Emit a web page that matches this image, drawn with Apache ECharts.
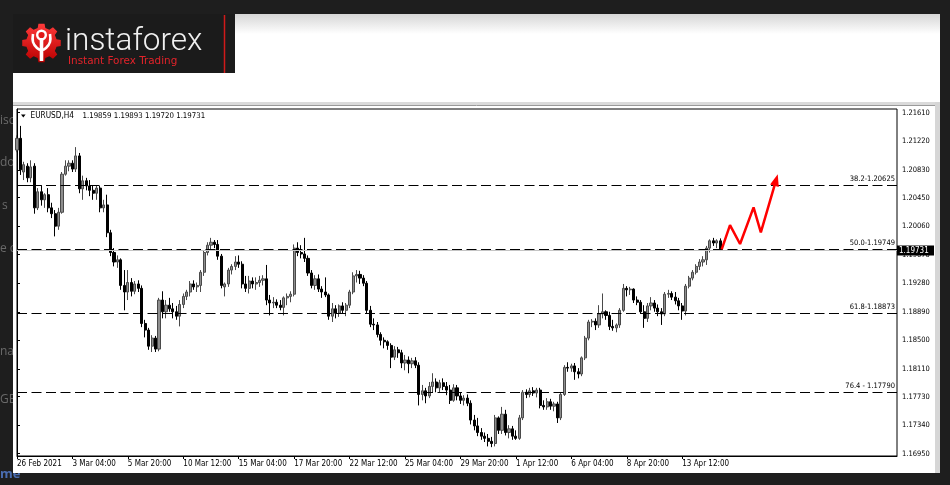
<!DOCTYPE html>
<html>
<head>
<meta charset="utf-8">
<title>EURUSD H4</title>
<script src="https://cdn.jsdelivr.net/npm/echarts@6.0.0/dist/echarts.min.js"></script>
<style>
  html, body { margin: 0; padding: 0; background: #1e1e1e; }
  #chart { width: 950px; height: 485px; }
</style>
</head>
<body>
<div id="chart"></div>
<script>
  // EURUSD H4 candles (26 Feb 12:00 -> 15 Apr 04:00)
  const opens = [
    1.2110,1.2126,1.2080,1.2088,1.2072,1.2088,1.2031,1.2053,1.2042,1.2049,
    1.2031,1.2023,1.2006,1.2025,1.2077,1.2088,1.2092,1.2084,1.2102,1.2057,
    1.2068,1.2061,1.2055,1.2051,1.2058,1.2031,1.2035,1.1997,1.1970,1.1957,
    1.1960,1.1925,1.1916,1.1929,1.1917,1.1927,1.1921,1.1873,1.1864,1.1842,
    1.1853,1.1838,1.1905,1.1889,1.1898,1.1893,1.1889,1.1883,1.1899,1.1910,
    1.1916,1.1927,1.1923,1.1925,1.1943,1.1970,1.1980,1.1984,1.1981,1.1965,
    1.1923,1.1927,1.1946,1.1951,1.1957,1.1954,1.1927,1.1921,1.1931,1.1927,
    1.1929,1.1932,1.1934,1.1905,1.1901,1.1902,1.1898,1.1895,1.1908,1.1910,
    1.1913,1.1976,1.1970,1.1968,1.1962,1.1942,1.1925,1.1934,1.1920,1.1916,
    1.1912,1.1883,1.1893,1.1887,1.1897,1.1891,1.1898,1.1916,1.1938,1.1940,
    1.1935,1.1928,1.1891,1.1872,1.1871,1.1858,1.1850,1.1848,1.1843,1.1827,
    1.1837,1.1833,1.1819,1.1823,1.1818,1.1822,1.1816,1.1776,1.1781,1.1774,
    1.1787,1.1793,1.1785,1.1792,1.1787,1.1782,1.1768,1.1785,1.1774,1.1768,
    1.1771,1.1764,1.1741,1.1733,1.1724,1.1719,1.1716,1.1712,1.1709,1.1744,
    1.1727,1.1749,1.1724,1.1729,1.1719,1.1716,1.1744,1.1779,1.1776,1.1781,
    1.1778,1.1782,1.1761,1.1759,1.1766,1.1760,1.1763,1.1744,1.1776,1.1813,
    1.1812,1.1815,1.1807,1.1804,1.1826,1.1853,1.1875,1.1876,1.1871,1.1886,
    1.1889,1.1884,1.1869,1.1867,1.1871,1.1891,1.1921,1.1919,1.1920,1.1905,
    1.1902,1.1889,1.1880,1.1897,1.1901,1.1894,1.1889,1.1886,1.1913,1.1914,
    1.1909,1.1904,1.1897,1.1890,1.1924,1.1935,1.1943,1.1951,1.1957,1.1960,
    1.1976,1.1986,1.1983,1.19859
  ];
  const highs = [
    1.2130,1.2143,1.2094,1.2092,1.2096,1.2092,1.2058,1.2062,1.2051,1.2058,
    1.2038,1.2028,1.2031,1.2080,1.2096,1.2096,1.2096,1.2114,1.2106,1.2075,
    1.2072,1.2069,1.2062,1.2061,1.2061,1.2042,1.2049,1.2001,1.1976,1.1966,
    1.1962,1.1946,1.1946,1.1935,1.1931,1.1932,1.1925,1.1878,1.1867,1.1857,
    1.1856,1.1908,1.1917,1.1905,1.1908,1.1901,1.1897,1.1905,1.1914,1.1919,
    1.1931,1.1932,1.1929,1.1946,1.1973,1.1984,1.1990,1.1987,1.1987,1.1968,
    1.1929,1.1949,1.1954,1.1965,1.1966,1.1958,1.1938,1.1938,1.1936,1.1936,
    1.1938,1.1939,1.1953,1.1912,1.1909,1.1906,1.1905,1.1910,1.1914,1.1917,
    1.1981,1.1984,1.1980,1.1990,1.1966,1.1946,1.1939,1.1940,1.1924,1.1936,
    1.1914,1.1901,1.1898,1.1899,1.1902,1.1901,1.1919,1.1943,1.1946,1.1945,
    1.1939,1.1931,1.1897,1.1880,1.1875,1.1861,1.1854,1.1850,1.1846,1.1842,
    1.1841,1.1837,1.1830,1.1828,1.1826,1.1827,1.1820,1.1789,1.1785,1.1793,
    1.1805,1.1798,1.1796,1.1798,1.1793,1.1789,1.1790,1.1789,1.1778,1.1775,
    1.1776,1.1768,1.1748,1.1744,1.1730,1.1724,1.1722,1.1718,1.1748,1.1746,
    1.1759,1.1755,1.1734,1.1733,1.1727,1.1748,1.1782,1.1783,1.1785,1.1786,
    1.1785,1.1785,1.1768,1.1771,1.1770,1.1766,1.1766,1.1779,1.1816,1.1820,
    1.1818,1.1819,1.1812,1.1828,1.1856,1.1878,1.1879,1.1880,1.1898,1.1914,
    1.1891,1.1889,1.1878,1.1873,1.1894,1.1927,1.1924,1.1923,1.1921,1.1910,
    1.1905,1.1898,1.1901,1.1909,1.1905,1.1899,1.1894,1.1916,1.1919,1.1917,
    1.1916,1.1908,1.1901,1.1927,1.1938,1.1946,1.1954,1.1961,1.1965,1.1979,
    1.1988,1.1990,1.1988,1.19893
  ];
  const lows = [
    1.2107,1.2076,1.2069,1.2066,1.2066,1.2023,1.2028,1.2034,1.2031,1.2025,
    1.2017,1.1992,1.2001,1.2023,1.2075,1.2081,1.2080,1.2080,1.2051,1.2042,
    1.2055,1.2047,1.2042,1.2042,1.2025,1.2025,1.1991,1.1965,1.1951,1.1949,
    1.1919,1.1891,1.1905,1.1910,1.1913,1.1916,1.1868,1.1854,1.1837,1.1834,
    1.1834,1.1835,1.1880,1.1880,1.1889,1.1880,1.1878,1.1869,1.1894,1.1905,
    1.1910,1.1919,1.1916,1.1916,1.1938,1.1966,1.1973,1.1976,1.1960,1.1921,
    1.1910,1.1923,1.1940,1.1946,1.1949,1.1921,1.1916,1.1914,1.1921,1.1919,
    1.1923,1.1925,1.1898,1.1884,1.1894,1.1894,1.1891,1.1884,1.1898,1.1902,
    1.1910,1.1965,1.1962,1.1957,1.1938,1.1921,1.1919,1.1916,1.1908,1.1909,
    1.1878,1.1875,1.1880,1.1882,1.1886,1.1883,1.1894,1.1913,1.1929,1.1927,
    1.1924,1.1887,1.1868,1.1864,1.1854,1.1843,1.1839,1.1837,1.1812,1.1823,
    1.1826,1.1812,1.1809,1.1805,1.1812,1.1812,1.1761,1.1768,1.1764,1.1771,
    1.1779,1.1779,1.1779,1.1782,1.1775,1.1763,1.1766,1.1768,1.1763,1.1761,
    1.1760,1.1735,1.1727,1.1719,1.1714,1.1711,1.1705,1.1704,1.1705,1.1722,
    1.1722,1.1720,1.1716,1.1714,1.1714,1.1714,1.1741,1.1771,1.1772,1.1774,
    1.1772,1.1757,1.1755,1.1755,1.1755,1.1753,1.1737,1.1741,1.1774,1.1807,
    1.1807,1.1796,1.1798,1.1801,1.1823,1.1850,1.1868,1.1864,1.1867,1.1880,
    1.1878,1.1864,1.1863,1.1861,1.1867,1.1889,1.1910,1.1912,1.1901,1.1898,
    1.1886,1.1867,1.1875,1.1891,1.1889,1.1883,1.1871,1.1883,1.1908,1.1905,
    1.1899,1.1891,1.1878,1.1884,1.1921,1.1932,1.1940,1.1946,1.1951,1.1953,
    1.1970,1.1979,1.1976,1.19720
  ];
  const closes = [
    1.2126,1.2083,1.2090,1.2072,1.2087,1.2031,1.2053,1.2042,1.2049,1.2031,
    1.2023,1.2006,1.2025,1.2077,1.2088,1.2092,1.2084,1.2102,1.2057,1.2068,
    1.2061,1.2055,1.2051,1.2058,1.2031,1.2035,1.1997,1.1970,1.1957,1.1960,
    1.1925,1.1916,1.1929,1.1917,1.1927,1.1921,1.1873,1.1864,1.1842,1.1853,
    1.1838,1.1905,1.1889,1.1898,1.1893,1.1889,1.1883,1.1899,1.1910,1.1916,
    1.1927,1.1923,1.1925,1.1943,1.1970,1.1980,1.1984,1.1981,1.1965,1.1925,
    1.1927,1.1946,1.1951,1.1957,1.1954,1.1927,1.1921,1.1931,1.1927,1.1929,
    1.1932,1.1934,1.1905,1.1901,1.1902,1.1898,1.1895,1.1908,1.1910,1.1913,
    1.1976,1.1970,1.1968,1.1962,1.1942,1.1925,1.1934,1.1920,1.1916,1.1912,
    1.1883,1.1893,1.1887,1.1897,1.1891,1.1898,1.1916,1.1938,1.1940,1.1935,
    1.1928,1.1891,1.1872,1.1871,1.1858,1.1850,1.1848,1.1843,1.1827,1.1837,
    1.1833,1.1819,1.1823,1.1818,1.1822,1.1816,1.1776,1.1781,1.1774,1.1787,
    1.1793,1.1785,1.1792,1.1787,1.1782,1.1768,1.1785,1.1774,1.1768,1.1771,
    1.1764,1.1741,1.1733,1.1724,1.1719,1.1716,1.1712,1.1709,1.1744,1.1727,
    1.1749,1.1724,1.1729,1.1719,1.1716,1.1744,1.1779,1.1776,1.1781,1.1778,
    1.1782,1.1761,1.1759,1.1766,1.1760,1.1763,1.1744,1.1776,1.1813,1.1812,
    1.1815,1.1807,1.1804,1.1826,1.1853,1.1875,1.1876,1.1871,1.1886,1.1889,
    1.1884,1.1869,1.1867,1.1871,1.1891,1.1921,1.1919,1.1920,1.1905,1.1902,
    1.1889,1.1880,1.1897,1.1901,1.1894,1.1889,1.1886,1.1913,1.1914,1.1909,
    1.1904,1.1897,1.1890,1.1924,1.1935,1.1943,1.1951,1.1957,1.1960,1.1976,
    1.1986,1.1983,1.1986,1.19731
  ];

  // bottom time labels, one every 16 bars
  const tickLabels = ["26 Feb 2021", "3 Mar 04:00", "5 Mar 20:00", "10 Mar 12:00", "15 Mar 04:00",
    "17 Mar 20:00", "22 Mar 12:00", "25 Mar 04:00", "29 Mar 20:00", "1 Apr 12:00",
    "6 Apr 04:00", "8 Apr 20:00", "13 Apr 12:00"];
  const tickStep = 16;
  // right price scale
  const priceTicks = [1.16950, 1.17340, 1.17730, 1.18110, 1.18500, 1.18890, 1.19280,
    1.19670, 1.20060, 1.20450, 1.20830, 1.21220, 1.21610];
  // fibo levels
  const fibLevels = [1.20625, 1.19749, 1.18873, 1.17790];
  const fibLabels = ["38.2-1.20625", "50.0-1.19749", "61.8-1.18873", "76.4 - 1.17790"];
  // red forecast zigzag (bar position, price)
  const forecastBars = [203.4, 205.8, 208.7, 212.6, 214.7, 219.1];
  const forecastPrices = [1.19743, 1.20075, 1.19816, 1.20317, 1.19976, 1.20690];

  // bar times for the category axis (H4, weekends skipped), incl. empty space on the right
  const totalBars = 255;
  const barTimes = [];
  let t = Date.UTC(2021, 1, 26, 12);
  while (barTimes.length < totalBars) {
    const d = new Date(t);
    const wd = d.getUTCDay();
    if (wd !== 0 && wd !== 6) {
      barTimes.push(d.toISOString().slice(0, 16).replace("T", " "));
    }
    t += 4 * 3600 * 1000;
  }

  const FONT = '"DejaVu Sans Condensed", "DejaVu Sans", sans-serif';
  const last = opens.length - 1;
  const candles = opens.map((o, i) => [o, closes[i], lows[i], highs[i]]);
  const forecast = forecastBars.map((b, i) => {
    const p = { value: [b, forecastPrices[i]] };
    if (i === forecastBars.length - 1) {
      p.symbol = "triangle";
      p.symbolSize = [9, 12];
      p.symbolRotate = -16;
      p.itemStyle = { color: "#ff0000" };
    }
    return p;
  });
  const showTick = (i) => i % tickStep === 0 && i / tickStep < tickLabels.length;

  // gear for the logo
  function gearPoints(cx, cy, rOut, rIn, teeth) {
    const pts = [];
    const step = Math.PI * 2 / teeth;
    for (let k = 0; k < teeth; k++) {
      const a = k * step - Math.PI / 2;
      pts.push([cx + rIn * Math.cos(a - step * 0.32), cy + rIn * Math.sin(a - step * 0.32)]);
      pts.push([cx + rOut * Math.cos(a - step * 0.2), cy + rOut * Math.sin(a - step * 0.2)]);
      pts.push([cx + rOut * Math.cos(a + step * 0.2), cy + rOut * Math.sin(a + step * 0.2)]);
      pts.push([cx + rIn * Math.cos(a + step * 0.32), cy + rIn * Math.sin(a + step * 0.32)]);
    }
    return pts;
  }

  const redGrad = new echarts.graphic.LinearGradient(0, 0, 0, 1, [
    { offset: 0, color: "#ff3a3a" },
    { offset: 1, color: "#b80000" }
  ]);

  const graphics = [
    // page background pieces
    { type: "text", z: -30, style: { x: 0, y: 121, text: "isc", fill: "#6a6a6a", font: "12px 'Open Sans'", verticalAlign: "middle" } },
    { type: "text", z: -30, style: { x: 0, y: 163, text: "do", fill: "#6a6a6a", font: "12px 'Open Sans'", verticalAlign: "middle" } },
    { type: "text", z: -30, style: { x: 2, y: 206, text: "s", fill: "#6a6a6a", font: "12px 'Open Sans'", verticalAlign: "middle" } },
    { type: "text", z: -30, style: { x: 0, y: 249, text: "e c", fill: "#6a6a6a", font: "12px 'Open Sans'", verticalAlign: "middle" } },
    { type: "text", z: -30, style: { x: 0, y: 352, text: "na", fill: "#6a6a6a", font: "12px 'Open Sans'", verticalAlign: "middle" } },
    { type: "text", z: -30, style: { x: 0, y: 400, text: "GE", fill: "#6a6a6a", font: "12px 'Open Sans'", verticalAlign: "middle" } },
    { type: "text", z: -30, style: { x: 0, y: 474, text: "me", fill: "#4a6db0", font: "bold 13px 'Open Sans'", verticalAlign: "middle" } },
    // white window
    { type: "rect", z: -20, shape: { x: 13, y: 14, width: 927, height: 459 }, style: { fill: "#ffffff" } },
    { type: "rect", z: -19, shape: { x: 235, y: 14, width: 705, height: 20 },
      style: { fill: new echarts.graphic.LinearGradient(0, 0, 0, 1, [
        { offset: 0, color: "#d6d6d6" }, { offset: 1, color: "#ffffff" }]) } },
    { type: "rect", z: -19, shape: { x: 13, y: 102, width: 927, height: 3 }, style: { fill: "#dadada" } },
    { type: "line", z: -19, shape: { x1: 13, y1: 105.5, x2: 940, y2: 105.5 }, style: { stroke: "#9a9a9a", lineWidth: 1 } },
    { type: "rect", z: -19, shape: { x: 935, y: 102, width: 5, height: 371 }, style: { fill: "#d6d6d6" } },
    // logo block
    { type: "rect", z: -18, shape: { x: 13, y: 14, width: 222, height: 59 }, style: { fill: "#1b1b1b" } },
    { type: "line", z: -17, shape: { x1: 224.5, y1: 15, x2: 224.5, y2: 73 }, style: { stroke: "#d11a1a", lineWidth: 1.5 } },
    { type: "polygon", z: -17, shape: { points: gearPoints(41.5, 43, 19.5, 15.5, 8) }, style: { fill: redGrad } },
    { type: "circle", z: -16, shape: { cx: 41.5, cy: 35, r: 4.3 }, style: { fill: "#e01818", stroke: "#ffffff", lineWidth: 2.4 } },
    { type: "polyline", z: -16, shape: { points: [[33, 34], [33, 42], [37, 48], [41.5, 50], [46, 48], [50, 42], [50, 34]], smooth: 0.4 },
      style: { stroke: "#ffffff", lineWidth: 2.6, fill: null } },
    { type: "line", z: -16, shape: { x1: 41.5, y1: 40, x2: 41.5, y2: 61 }, style: { stroke: "#ffffff", lineWidth: 3.6 } },
    { type: "text", z: -16, style: { x: 65, y: 42, text: "instaforex", fill: "#f0f0f0", font: "300 31.5px Roboto", verticalAlign: "middle" } },
    { type: "text", z: -16, style: { x: 68, y: 61, text: "Instant Forex Trading", fill: "#e3232a", font: "10.4px 'DejaVu Sans'", verticalAlign: "middle" } },
    // chart title
    { type: "polygon", z: 10, shape: { points: [[21, 114.5], [25.6, 114.5], [23.3, 117.6]] }, style: { fill: "#000" } },
    { type: "text", z: 10, style: { x: 30.5, y: 116, text: "EURUSD,H4", fill: "#000", font: "8.2px " + FONT, verticalAlign: "middle" } },
    { type: "text", z: 10, style: { x: 82.5, y: 116,
      text: [opens[last], highs[last], lows[last], closes[last]].map(v => v.toFixed(5)).join(" "),
      fill: "#000", font: "7.8px " + FONT, verticalAlign: "middle" } }
  ];

  const fibMarks = fibLevels.map((lv, k) => ({
    yAxis: lv,
    lineStyle: { type: [10, 4.5], color: "#000", width: 1 },
    label: { show: true, position: "insideEndTop", formatter: fibLabels[k], distance: 2,
      color: "#000", fontSize: 7.5, fontFamily: FONT }
  }));

  const option = {
    backgroundColor: "#1e1e1e",
    animation: false,
    grid: { left: 17, right: 53, top: 109, bottom: 29, show: true, borderColor: "#000", borderWidth: 1, backgroundColor: "#fff" },
    xAxis: [
      {
        type: "category",
        data: barTimes,
        boundaryGap: false,
        axisLine: { lineStyle: { color: "#000", width: 1 } },
        axisTick: { length: 3, interval: showTick, lineStyle: { color: "#000" } },
        axisLabel: {
          interval: showTick,
          showMinLabel: true,
          formatter: (v, i) => tickLabels[i / tickStep] || "",
          align: "left",
          margin: 4,
          color: "#000",
          fontSize: 8,
          fontFamily: FONT
        },
        splitLine: { show: false }
      },
      { type: "value", min: 0, max: totalBars - 1, show: false }
    ],
    yAxis: {
      type: "value",
      position: "right",
      min: 1.16919,
      max: 1.21661,
      axisLine: { show: true, lineStyle: { color: "#000", width: 1 } },
      axisTick: { show: true, length: 3, customValues: priceTicks, lineStyle: { color: "#000" } },
      axisLabel: {
        customValues: priceTicks,
        formatter: (v) => v.toFixed(5),
        margin: 5,
        color: "#000",
        fontSize: 7.5,
        fontFamily: FONT
      },
      splitLine: { show: false }
    },
    series: [
      {
        type: "candlestick",
        data: candles,
        barWidth: 2.6,
        itemStyle: {
          color: "#8e8e8e",
          color0: "#000000",
          borderColor: "#4a4a4a",
          borderColor0: "#000000",
          borderWidth: 1
        },
        markLine: {
          silent: true,
          symbol: "none",
          precision: 5,
          animation: false,
          data: [
            { yAxis: closes[last], lineStyle: { type: "solid", color: "#c4c4c4", width: 1 }, label: { show: false } },
            ...fibMarks,
            [
              { coord: [0, fibLevels[0]], lineStyle: { type: "solid", color: "#000", width: 1 }, label: { show: false } },
              { coord: [5, fibLevels[0]] }
            ]
          ]
        }
      },
      {
        type: "line",
        xAxisIndex: 1,
        data: forecast,
        symbol: "none",
        lineStyle: { color: "#ff0000", width: 2.5 },
        z: 5
      }
    ],
    graphic: { elements: graphics }
  };

  const myChart = echarts.init(document.getElementById("chart"));
  myChart.setOption(option);

  // current price tag on the price scale
  const py = myChart.convertToPixel({ yAxisIndex: 0 }, closes[last]);
  graphics.push(
    { type: "rect", z: 20, shape: { x: 897, y: Math.round(py) - 4.5, width: 37, height: 10 }, style: { fill: "#000" } },
    { type: "text", z: 21, style: { x: 899, y: py + 0.5, text: closes[last].toFixed(5), fill: "#fff",
      font: "8px " + FONT, verticalAlign: "middle" } }
  );
  myChart.setOption({ graphic: { elements: graphics } });

  window.addEventListener("resize", () => myChart.resize());
</script>
</body>
</html>
